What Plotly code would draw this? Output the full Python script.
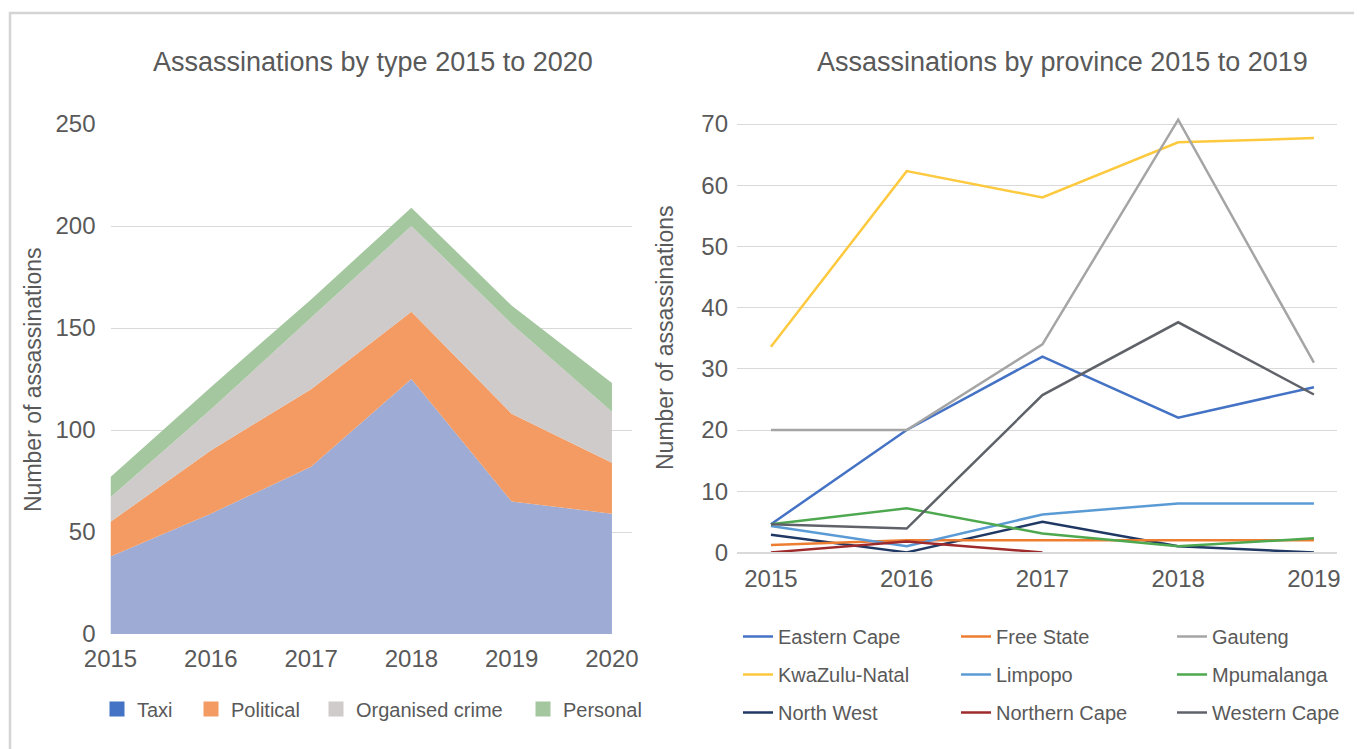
import plotly.graph_objects as go

W, H = 1362, 749
OFF = 8  # the page body adds an 8px margin around the figure

# left chart: assassinations by type (stacked area)
years_type = [2015, 2016, 2017, 2018, 2019, 2020]
taxi = [38, 59, 82, 125, 65, 59]
political = [17, 31, 38, 33, 43, 25]
organised_crime = [12, 20, 35, 42, 44, 25]
personal = [10, 11, 9, 9, 9, 14]

# right chart: assassinations by province (lines)
years_prov = [2015, 2016, 2017, 2018, 2019]
eastern_cape = [4.6, 20, 32, 22, 27]
free_state = [1.2, 2, 2, 2, 2]
gauteng = [20, 20, 34, 70.7, 31]
kwazulu_natal = [33.6, 62.3, 58, 67, 67.7]
limpopo = [4.3, 1, 6.2, 8, 8]
mpumalanga = [4.6, 7.2, 3.1, 1, 2.3]
north_west = [2.9, 0, 5, 1, 0]
northern_cape = [0, 1.8, 0, None, None]
western_cape = [4.6, 3.9, 25.7, 37.6, 25.8]
prov_ticks = [0, 10, 20, 30, 40, 50, 60, 70]

FONT = "Liberation Sans, Arial, sans-serif"
TXT = "#595959"
GRID = "#d9d9d9"


def px(x):
    return (x - OFF) / W


def py(y):
    return 1 - (y - OFF) / H


fig = go.Figure()

# name, values, area fill, legend key colour, legend id, key x position
areas = [
    ("Taxi", taxi, "#9dabd5", "#4472c4", "legend", 117),
    ("Political", political, "#f39b62", "#f39b62", "legend5", 211),
    ("Organised crime", organised_crime, "#cfcbca", "#cfcbca", "legend6", 336),
    ("Personal", personal, "#a4c79f", "#a4c79f", "legend7", 543),
]
for name, vals, fill, key, leg, kx in areas:
    fig.add_trace(go.Scatter(
        x=years_type, y=vals, name=name, mode="none", stackgroup="type",
        fillcolor=fill, showlegend=False, xaxis="x", yaxis="y",
    ))
for name, vals, fill, key, leg, kx in areas:
    fig.add_trace(go.Scatter(
        x=[None], y=[None], name=name, mode="markers", xaxis="x", yaxis="y",
        marker=dict(symbol="square", size=15, color=key), legend=leg,
    ))

provinces = [
    ("Eastern Cape", eastern_cape, "#4472c4", "legend2"),
    ("KwaZulu-Natal", kwazulu_natal, "#fdc93f", "legend2"),
    ("North West", north_west, "#1f3864", "legend2"),
    ("Free State", free_state, "#ed7d31", "legend3"),
    ("Limpopo", limpopo, "#5b9bd5", "legend3"),
    ("Northern Cape", northern_cape, "#9e2a2b", "legend3"),
    ("Gauteng", gauteng, "#a5a5a5", "legend4"),
    ("Mpumalanga", mpumalanga, "#4ea84f", "legend4"),
    ("Western Cape", western_cape, "#5f6369", "legend4"),
]
for name, vals, color, leg in provinces:
    fig.add_trace(go.Scatter(
        x=years_prov, y=vals, name=name, mode="lines", xaxis="x2", yaxis="y2",
        line=dict(color=color, width=2.5), legend=leg, legendgroup=name,
    ))

axis_font = dict(family=FONT, size=24, color=TXT)
title_font = dict(family=FONT, size=23, color=TXT)
leg_font = dict(family=FONT, size=20, color=TXT)

legends = {}
for name, vals, fill, key, leg, kx in areas:
    legends[leg] = dict(
        orientation="h", x=px(kx - 20), xanchor="left", y=py(709),
        yanchor="middle", font=leg_font, bgcolor="rgba(0,0,0,0)",
    )
for leg, lx in [("legend2", 738), ("legend3", 956), ("legend4", 1172)]:
    legends[leg] = dict(
        x=px(lx), xanchor="left", y=py(617), yanchor="top",
        font=leg_font, tracegroupgap=9, bgcolor="rgba(0,0,0,0)",
    )

# right plot: 10 units = 61.2 px, 0 at y=552.4; leave a little headroom above 70
unit = 61.2 / 10

fig.update_layout(
    width=W, height=H,
    margin=dict(l=0, r=0, t=0, b=0, autoexpand=False),
    paper_bgcolor="white", plot_bgcolor="white",
    font=dict(family=FONT, color=TXT),
    xaxis=dict(
        domain=[px(110.5), px(632)], range=[2015, 2020.2],
        tickvals=years_type, showgrid=False, zeroline=False,
        tickfont=axis_font, ticklabelstandoff=8,
    ),
    yaxis=dict(
        domain=[py(634), py(124)], range=[0, 250], dtick=50,
        gridcolor=GRID, gridwidth=1, zeroline=False,
        tickfont=axis_font, ticklabelstandoff=14,
    ),
    xaxis2=dict(
        domain=[px(737), px(1337)], range=[2014.75, 2019.17],
        tickvals=years_prov, showgrid=False, zeroline=False,
        showline=True, linecolor=GRID, linewidth=1.5, layer="above traces",
        tickfont=axis_font, ticklabelstandoff=4, anchor="y2",
    ),
    yaxis2=dict(
        domain=[py(552.4), py(552.4 - 72 * unit)], range=[0, 72],
        tickvals=prov_ticks,
        gridcolor=GRID, gridwidth=1, zeroline=False,
        tickfont=axis_font, ticklabelstandoff=8, anchor="x2",
    ),
    shapes=[dict(
        type="rect", xref="paper", yref="paper",
        x0=px(10), x1=px(1400), y0=py(790), y1=py(13),
        line=dict(color="#d4d4d4", width=2.5), layer="below",
    )],
    annotations=[
        dict(text="Assassinations by type 2015 to 2020", x=px(373), y=py(62),
             xref="paper", yref="paper", xanchor="center", yanchor="middle",
             showarrow=False, font=dict(family=FONT, size=27, color=TXT)),
        dict(text="Assassinations by province 2015 to 2019", x=px(1062), y=py(62),
             xref="paper", yref="paper", xanchor="center", yanchor="middle",
             showarrow=False, font=dict(family=FONT, size=27, color=TXT)),
        dict(text="Number of assassinations", x=px(33), y=py(380), textangle=-90,
             xref="paper", yref="paper", xanchor="center", yanchor="middle",
             showarrow=False, font=title_font),
        dict(text="Number of assassinations", x=px(665), y=py(338), textangle=-90,
             xref="paper", yref="paper", xanchor="center", yanchor="middle",
             showarrow=False, font=title_font),
    ],
    **legends,
)

fig.write_html("out.html")
